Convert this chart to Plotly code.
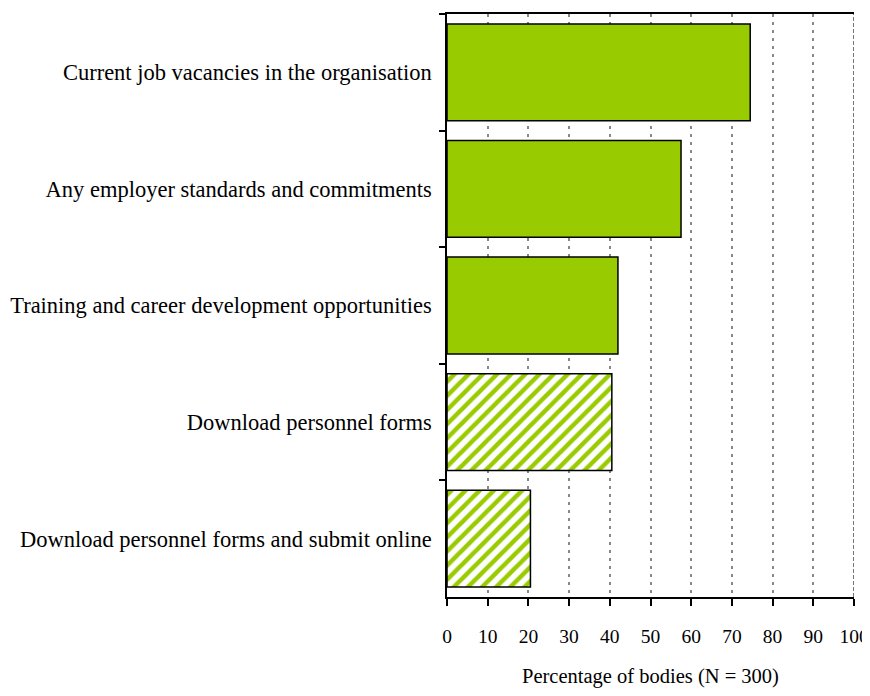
import plotly.graph_objects as go

categories = [
    "Current job vacancies in the organisation",
    "Any employer standards and commitments",
    "Training and career development opportunities",
    "Download personnel forms",
    "Download personnel forms and submit online",
]
values = [74.5, 57.5, 42, 40.5, 20.5]
patterns = ["", "", "", "/", "/"]
x_ticks = [0, 10, 20, 30, 40, 50, 60, 70, 80, 90, 100]

GREEN = "#99CC00"
FONT = "Liberation Serif"

fig = go.Figure(go.Bar(
    x=values, y=categories, orientation="h",
    marker=dict(color=GREEN, line=dict(color="black", width=1.5),
                pattern=dict(shape=patterns, fgcolor=GREEN, bgcolor="white",
                             size=10, solidity=0.45, fillmode="replace")),
    width=0.83,
))

fig.add_shape(type="line", xref="x", yref="paper", x0=100, x1=100, y0=0, y1=1,
              line=dict(color="#777777", width=2, dash="4px,2px"))

fig.update_layout(
    width=862, height=680,
    margin=dict(l=439, r=16, t=6, b=91, autoexpand=False),
    paper_bgcolor="white", plot_bgcolor="white",
    font=dict(family=FONT, size=22.5, color="black"),
    showlegend=False,
    xaxis=dict(range=[0, 100], tickvals=x_ticks, showgrid=True, automargin=False,
               gridcolor="#888888", griddash="3px,5px", gridwidth=1.5,
               showline=True, mirror=True, linecolor="black", linewidth=1.5,
               ticks="outside", ticklen=7, tickcolor="black", tickwidth=1.5,
               ticklabelstandoff=14, zeroline=False, tickfont=dict(size=19.5),
               ticklabeloverflow="allow",
               title=dict(text="Percentage of bodies (N = 300)", font=dict(size=20.5), standoff=28)),
    yaxis=dict(categoryorder="array", categoryarray=categories, autorange="reversed",
               automargin=False,
               showline=True, linecolor="black", linewidth=1.5,
               ticks="outside", tickson="boundaries", ticklen=6, tickcolor="black", tickwidth=1.5,
               ticklabelstandoff=9, showgrid=False, zeroline=False),
)

fig.write_html("out.html")
